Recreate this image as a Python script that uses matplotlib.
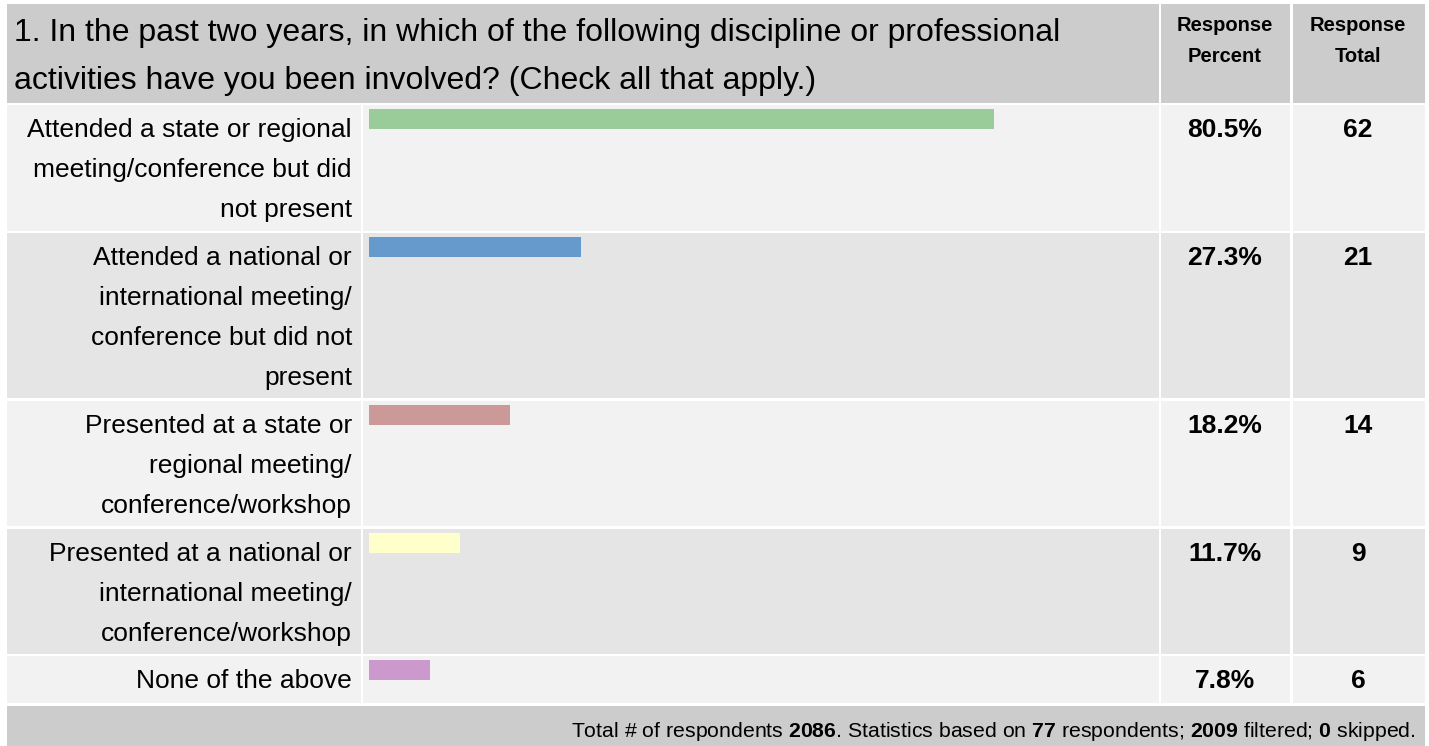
import matplotlib
matplotlib.use("Agg")
import matplotlib.pyplot as plt
from matplotlib.patches import Rectangle

plt.rcParams['font.family'] = ['Liberation Sans', 'DejaVu Sans']
plt.rcParams['mathtext.fontset'] = 'custom'
plt.rcParams['mathtext.rm'] = 'Liberation Sans'
plt.rcParams['mathtext.bf'] = 'Liberation Sans:bold'

# data
question = ["1. In the past two years, in which of the following discipline or professional",
            "activities have you been involved? (Check all that apply.)"]
labels = [
    ["Attended a state or regional", "meeting/conference but did", "not present"],
    ["Attended a national or", "international meeting/", "conference but did not", "present"],
    ["Presented at a state or", "regional meeting/", "conference/workshop"],
    ["Presented at a national or", "international meeting/", "conference/workshop"],
    ["None of the above"],
]
percents = [80.5, 27.3, 18.2, 11.7, 7.8]
totals = [62, 21, 14, 9, 6]
bar_colors = ["#99cc99", "#6699cc", "#cc9999", "#ffffcc", "#cc99cc"]
footer = (r"Total # of respondents $\mathbf{2086}$. Statistics based on $\mathbf{77}$ respondents; "
          r"$\mathbf{2009}$ filtered; $\mathbf{0}$ skipped.")

# layout (pixels)
W, H = 1429, 746
row_spans = [(105, 231), (233, 398), (401, 526), (529, 654), (656, 703)]
row_fill = ["#f2f2f2", "#e5e5e5"]

fig = plt.figure(figsize=(W / 100, H / 100), dpi=100)
fig.patch.set_facecolor("white")
ax = fig.add_axes([0, 0, 1, 1])
ax.set_xlim(0, W)
ax.set_ylim(H, 0)
ax.axis("off")

def cell(x0, x1, y0, y1, color):
    ax.add_patch(Rectangle((x0, y0), x1 - x0, y1 - y0, facecolor=color, edgecolor="none"))

# header
cell(7, 1159, 4, 103, "#cccccc")
cell(1161, 1290, 4, 103, "#cccccc")
cell(1293, 1425, 4, 103, "#cccccc")
for i, line in enumerate(question):
    ax.text(14, 41 + i * 48, line, fontsize=23, ha="left", va="baseline")
for cx, words in [(1225, ["Response", "Percent"]), (1358, ["Response", "Total"])]:
    for i, w in enumerate(words):
        ax.text(cx, 31 + i * 31, w, fontsize=14.5, fontweight="bold",
                ha="center", va="baseline")

# rows
for k, (y0, y1) in enumerate(row_spans):
    c = row_fill[k % 2]
    cell(7, 361, y0, y1, c)
    cell(363, 1159, y0, y1, c)
    cell(1161, 1290, y0, y1, c)
    cell(1293, 1425, y0, y1, c)
    for i, line in enumerate(labels[k]):
        ax.text(352, y0 + 32 + i * 40, line, fontsize=19, ha="right", va="baseline")
    ax.text(1225, y0 + 32, f"{percents[k]}%", fontsize=19, fontweight="bold",
            ha="center", va="baseline")
    ax.text(1358, y0 + 32, str(totals[k]), fontsize=19, fontweight="bold",
            ha="center", va="baseline")

# footer
cell(7, 1425, 706, H + 5, "#cccccc")
ax.text(1416, 737, footer, fontsize=15.3, ha="right", va="baseline")

# bars
bax = fig.add_axes([369 / W, 0, 776 / W, 1])
bax.set_xlim(0, 100)
bax.set_ylim(H, 0)
bax.axis("off")
bax.patch.set_alpha(0)
tops = [y0 + 4 for y0, _ in row_spans]
bax.barh(tops, percents, height=20, left=0, align="edge", color=bar_colors,
         edgecolor="none")

fig.savefig("out.png", dpi=100)
